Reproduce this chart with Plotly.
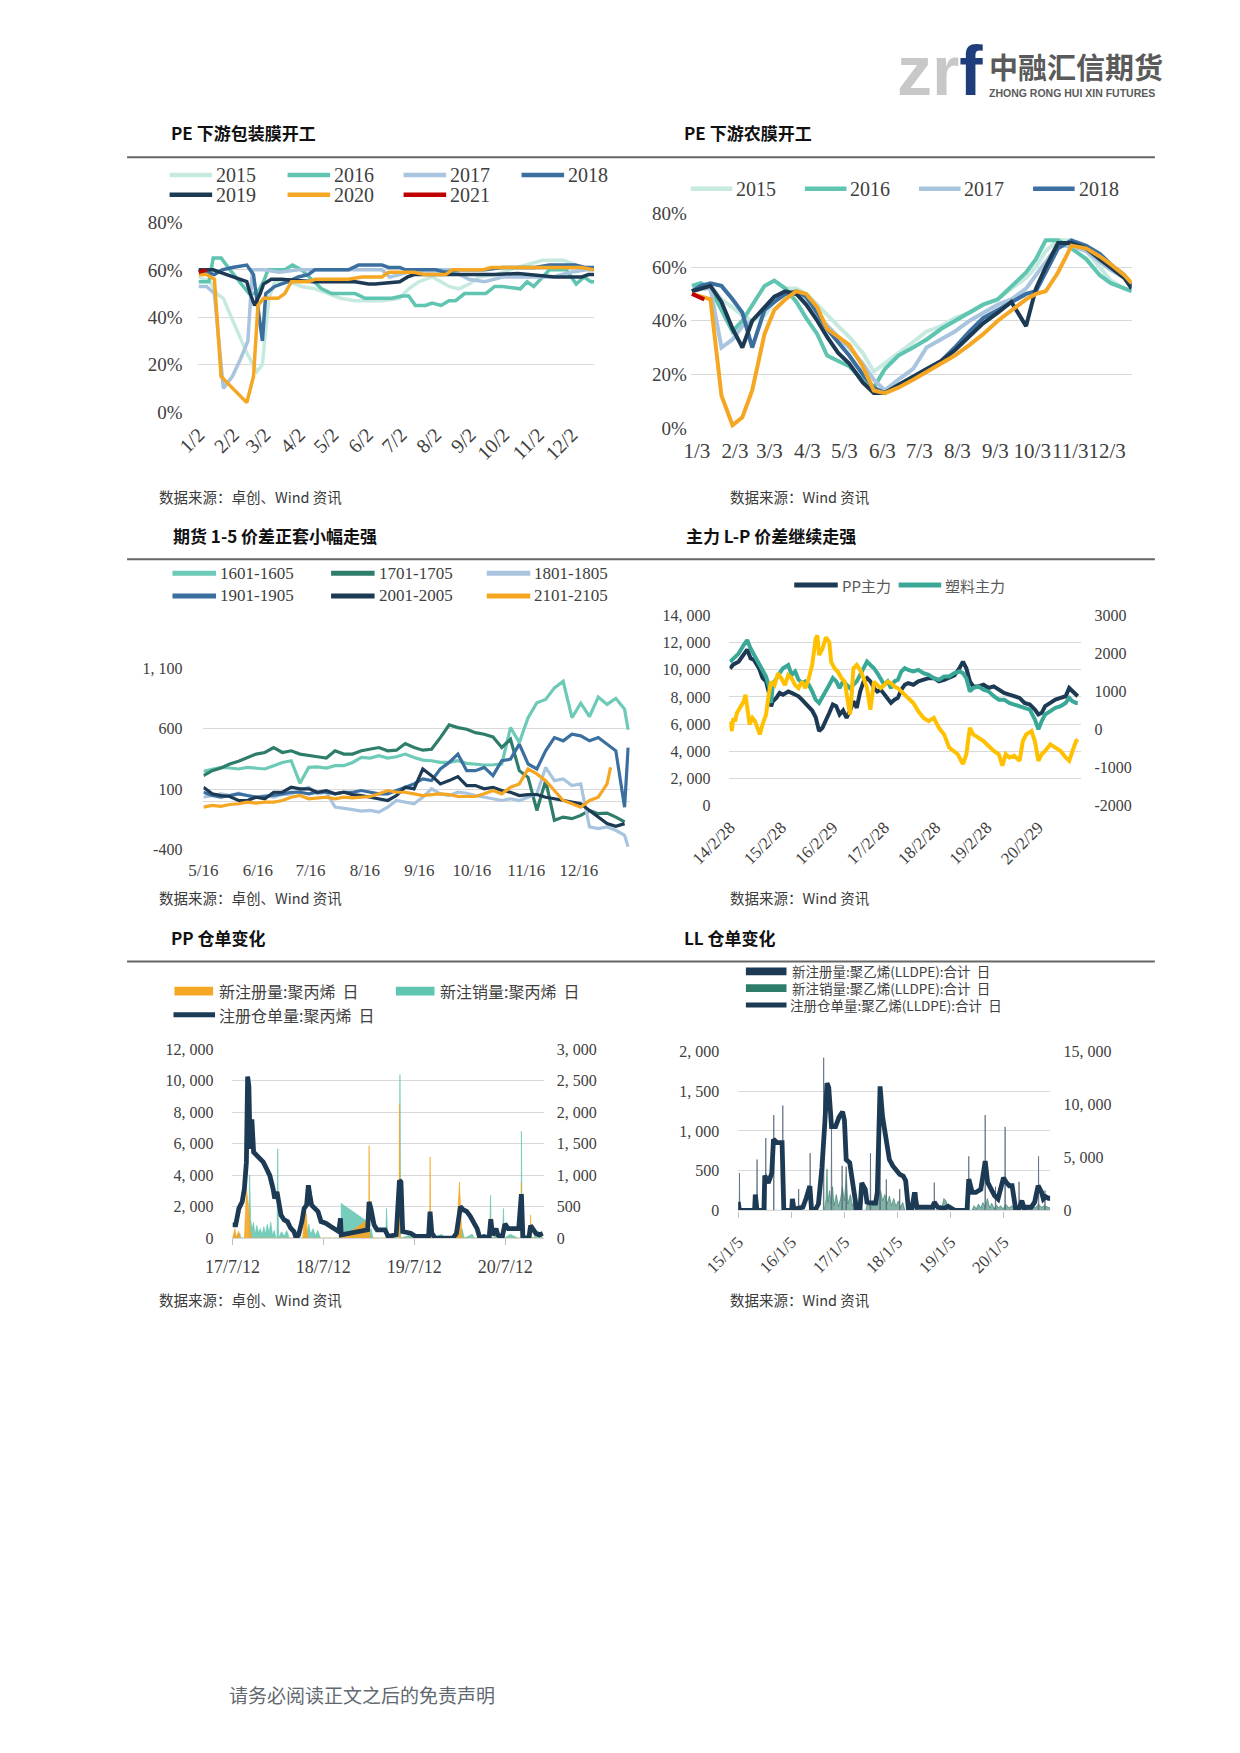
import plotly.graph_objects as go

W, H = 1240, 1753
SERIF = "Liberation Serif, Noto Sans CJK SC, serif"
CJK = "Noto Sans CJK SC, Liberation Serif, sans-serif"
TXT = "#404040"
GRID = "#d9d9d9"

# ======================= DATA =======================
# --- Chart 1: PE 下游包装膜开工 (%) ---
PK_YEARS = ["2015", "2016", "2017", "2018", "2019", "2020", "2021"]
PK15_D = ["01-02","01-12","01-18","01-24","02-02","02-14","02-23","02-28","03-03","03-06","03-11","03-23","04-04","04-16","04-28","05-09","05-22","06-15","07-01","07-09","07-18","07-30","08-07","08-14","08-23","09-01","09-10","09-25","10-14","10-29","11-06","11-25","12-06","12-17","12-22"]
PK15_V = [57,55,50,48,38,25,17,20,35,48,55,55,53,52,50,48,47,47,48,52,55,57,55,53,52,54,57,58,61,63,64,64,62,60,60]
PK16_D = ["01-02","01-11","01-15","01-22","01-30","02-08","02-16","02-23","03-01","03-05","03-20","03-27","04-04","04-13","04-22","05-01","05-22","05-31","06-24","07-03","07-09","07-15","07-24","07-30","08-07","08-14","08-20","08-28","09-16","09-24","10-01","10-17","10-23","10-29","11-06","11-12","11-27","12-06","12-13","12-19","12-22"]
PK16_V = [55,55,65,65,60,55,50,50,55,60,60,62,60,56,52,50,50,48,48,49,49,45,45,46,45,47,47,50,50,53,53,52,55,53,57,60,60,54,57,55,55]
PK17_D = ["01-02","01-09","01-16","01-24","02-01","02-08","02-15","02-19","03-01","03-15","04-01","04-15","05-01","05-15","06-01","06-15","06-22","07-01","07-15","08-01","08-15","09-01","09-15","10-01","10-15","11-01","11-15","12-01","12-15","12-22"]
PK17_V = [53,53,50,10,15,22,30,60,60,59,60,60,60,60,60,60,57,58,60,60,60,56,55,57,57,57,57,59,60,60]
PK18_D = ["01-02","01-16","01-23","02-01","02-14","02-20","02-28","03-03","03-11","03-23","04-01","04-10","04-16","05-16","05-25","06-15","06-21","07-01","07-06","08-02","08-11","08-23","09-15","10-01","10-30","11-12","12-05","12-14","12-22"]
PK18_V = [60,58,60,61,62,58,30,50,53,55,57,58,60,60,62,62,61,61,60,60,59,60,60,61,61,62,62,61,61]
PK19_D = ["01-02","01-15","01-27","02-08","02-14","02-17","02-21","02-26","03-01","03-08","03-17","04-15","05-22","06-03","06-09","07-01","07-08","07-14","08-15","09-24","10-15","11-17","12-11","12-17","12-22"]
PK19_V = [60,60,58,56,55,50,45,50,54,56,56,55,55,54,54,55,57,58,58,58,58.5,57,57,58,58]
PK20_D = ["01-02","01-09","01-16","01-22","02-14","02-20","02-24","03-01","03-14","03-20","03-26","04-10","04-16","05-16","05-28","06-15","06-21","07-14","07-23","08-11","08-17","09-13","09-21","12-11","12-22"]
PK20_V = [58,58,56,15,4,15,45,48,48,50,55,55,56,56,57,57,59,59,58,58,60,60,61,61,60]
PK21_D = ["01-02","01-09"]
PK21_V = [59,60]
PK_TICK_D = ["2001-01-02","2001-02-02","2001-03-02","2001-04-02","2001-05-02","2001-06-02","2001-07-02","2001-08-02","2001-09-02","2001-10-02","2001-11-02","2001-12-02"]
PK_TICK_T = ["1/2","2/2","3/2","4/2","5/2","6/2","7/2","8/2","9/2","10/2","11/2","12/2"]
PCT_VALS = [0, 20, 40, 60, 80]
PCT_TEXT = ["0%", "20%", "40%", "60%", "80%"]

# --- Chart 2: PE 下游农膜开工 (%) ---
AG_DATES = ["2000-12-30","2001-01-06","2001-01-14","2001-01-23","2001-02-01","2001-02-09","2001-02-17","2001-02-27","2001-03-07","2001-03-16","2001-03-25","2001-04-02","2001-04-11","2001-04-19","2001-04-28","2001-05-07","2001-05-18","2001-05-27","2001-06-05","2001-06-16","2001-06-28","2001-07-09","2001-07-21","2001-08-01","2001-08-13","2001-08-24","2001-09-05","2001-09-16","2001-09-28","2001-10-06","2001-10-14","2001-10-24","2001-11-04","2001-11-16","2001-11-27","2001-12-06","2001-12-17","2001-12-23"]
AG15 = [53,54,53,48,45,42,40,42,47,52,52,50,46,42,38,34,28,21,24,28,32,36,38,41,43,46,48,52,56,60,66,70,70,66,60,55,52,51]
AG16 = [53,54,52,44,36,40,46,53,55,52,47,41,35,27,25,23,18,15,22,27,30,33,37,40,43,46,48,53,58,63,70,70,67,63,57,54,52,51]
AG17 = [51,52,52,30,33,38,40,44,48,50,50,47,42,38,34,30,24,18,14,18,22,30,33,36,40,43,46,48,52,57,62,68,68,66,62,59,56,53]
AG18 = [51,53,54,53,48,43,30,44,47,50,51,49,43,37,32,27,20,15,13,16,19,22,25,30,36,41,44,47,50,51,58,67,70,68,65,61,57,53]
AG19 = [51,52,53,47,37,30,40,45,49,51,50,46,40,34,28,24,17,13,13,16,19,22,25,29,34,39,43,47,38,52,60,69,69,67,63,60,56,52]
AG20 = [50,49,48,12,1,4,14,35,44,48,51,50,45,37,34,31,23,14,13,15,18,21,24,27,31,35,40,44,48,50,51,58,68,67,64,61,57,54]
AG21_D = ["2000-12-30","2001-01-09"]
AG21_V = [50, 48]
AG_LEGEND = ["2015", "2016", "2017", "2018"]
AG_TICK_D = ["2001-01-03","2001-02-03","2001-03-03","2001-04-03","2001-05-03","2001-06-03","2001-07-03","2001-08-03","2001-09-03","2001-10-03","2001-11-03","2001-12-03"]
AG_TICK_T = ["1/3","2/3","3/3","4/3","5/3","6/3","7/3","8/3","9/3","10/3","11/3","12/3"]

# --- Chart 3: 1-5 spreads ---
C3_NAMES = ["1601-1605", "1701-1705", "1801-1805", "1901-1905", "2001-2005", "2101-2105"]
C3_DATES = ["2000-05-16","2000-05-21","2000-05-26","2000-05-31","2000-06-05","2000-06-10","2000-06-15","2000-06-20","2000-06-25","2000-06-30",
            "2000-07-05","2000-07-10","2000-07-15","2000-07-20","2000-07-25","2000-07-30","2000-08-04","2000-08-09","2000-08-14","2000-08-19",
            "2000-08-24","2000-08-29","2000-09-03","2000-09-08","2000-09-13","2000-09-18","2000-09-23","2000-09-28","2000-10-03","2000-10-08",
            "2000-10-13","2000-10-18","2000-10-23","2000-10-28","2000-11-02","2000-11-07","2000-11-12","2000-11-17","2000-11-22","2000-11-27",
            "2000-12-02","2000-12-07","2000-12-12","2000-12-17","2000-12-22","2000-12-27","2001-01-01","2001-01-06","2001-01-11"]
C3_TAIL_D = ["2001-01-13"]
C3_2101_TAIL_D = ["2001-01-03"]
S1601 = [248,267,280,275,267,280,275,267,294,321, 335,150,280,285,275,294,294,321,362,357,
         376,357,368,390,362,340,335,321,321,335, 313,308,300,302,308,608,485,690,813,840,
         936,990,690,810,700,860,800,850,760, 590]
S1701 = [212,253,275,308,330,357,390,403,444,403, 417,390,376,368,357,417,390,390,417,430,
         444,417,422,477,444,422,430,526,630,608, 595,567,554,532,444,512,253,198,-75,171,
         -157,-130,-143,-116,-75,-102,-97,-130,-170]
S1801 = [34,48,62,48,67,48,34,48,34,56, 62,89,116,62,75,-48,-61,-69,-80,-75,
         -89,-48,7,-7,-20,34,103,62,48,75, 67,48,34,21,7,21,7,34,62,280,
         171,185,130,144,-211,-225,-211,-239,-280, -375]
S1901 = [75,48,34,48,62,48,34,40,48,62, 75,75,62,75,75,62,75,75,89,75,
         62,62,89,116,144,185,171,267,321,390, 253,253,280,212,335,348,472,308,267,417,
         526,499,554,540,499,526,472,417,-48, 444]
S2001 = [116,62,48,40,7,7,34,21,75,75, 116,103,103,75,89,62,75,56,48,34,
         21,7,48,116,103,267,212,144,171,204, 130,130,103,116,89,75,48,56,56,34,
         21,7,-7,-20,-75,-130,-184,-206,-184]
S2101 = [-48,-34,-42,-26,-20,-7,-15,-7,-7,7, 34,48,21,29,34,21,34,29,34,40,
         62,89,75,75,62,48,56,62,56,40, 40,40,62,89,62,116,144,267,226,171,
         89,7,-20,-48,7,34,144, 280]
C3_TICK_D = ["2000-05-16","2000-06-16","2000-07-16","2000-08-16","2000-09-16","2000-10-16","2000-11-16","2000-12-16"]
C3_TICK_T = ["5/16","6/16","7/16","8/16","9/16","10/16","11/16","12/16"]
C3_Y_VALS = [-400, 100, 600, 1100]
C3_Y_TEXT = ["-400", "100", "600", "1, 100"]

# --- Chart 4: 主力 L-P ---
C4_NAMES = ["PP主力", "塑料主力"]
C4_DATES = ["2014-02-28","2014-03-24","2014-04-30","2014-06-05","2014-06-30","2014-07-24","2014-08-17","2014-09-23","2014-10-17","2014-11-11",
            "2014-12-05","2014-12-17","2014-12-29","2015-01-23","2015-02-16","2015-03-12","2015-04-18","2015-05-12","2015-06-06","2015-06-30",
            "2015-07-24","2015-08-18","2015-09-11","2015-10-05","2015-10-30","2015-11-23","2015-12-17","2016-01-11","2016-02-04","2016-02-29",
            "2016-03-24","2016-04-17","2016-05-12","2016-06-05","2016-06-29","2016-07-24","2016-08-17","2016-09-10","2016-10-05","2016-10-29",
            "2016-11-22","2016-12-17","2017-01-10","2017-02-03","2017-02-28","2017-03-24","2017-04-17","2017-05-12","2017-06-05","2017-06-30",
            "2017-07-24","2017-08-17","2017-09-23","2017-10-29","2017-12-05","2018-01-10","2018-02-16","2018-03-24","2018-04-30","2018-06-05",
            "2018-07-12","2018-08-17","2018-09-11","2018-10-05","2018-10-30","2018-11-23","2018-12-29","2019-02-04","2019-03-12","2019-04-18",
            "2019-05-24","2019-06-30","2019-08-06","2019-09-11","2019-10-18","2019-11-23","2019-12-30","2020-02-04","2020-02-29","2020-03-24",
            "2020-04-17","2020-05-24","2020-06-29","2020-08-05","2020-09-10","2020-10-05","2020-10-29","2020-11-23","2020-12-05"]
C4_PP = [10100,10400,10600,11100,11500,10850,10730,10100,9400,9150, 8170,7300,7680,7930,8300,8170,8400,8300,8170,8050,
         7800,7560,7300,7000,6500,5490,5730,6220,6830,7440, 7320,6700,7000,6460,6950,7680,7200,8400,9150,9400,
         9150,8660,8400,8540,8170,7800,7560,7800,7930,8540, 8900,9020,8900,9150,9270,9390,9390,9150,9270,9390,
         9590,10120,10610,10120,9150,8780,8780,8900,8660,8780, 8540,8290,8170,8050,7930,7560,7440,7070,6710,6830,
         7320,7560,7800,7930,8050,8660,8410,8170,8050]
C4_PE = [10600,10850,11200,11830,12200,11580,11100,10360,9880,9510, 8660,7560,8900,9390,9760,10120,10360,9630,9880,9270,
         9020,9150,8900,8410,7800,7560,8050,8410,8900,9390, 9150,8660,9150,8900,8660,8900,9150,9630,10120,10610,
         10360,10120,9760,9390,8900,9150,8660,9150,9270,9880, 10120,10000,9880,10000,9760,9630,9390,9270,9510,9510,
         9760,9880,9760,9390,8410,8660,8780,8540,8410,8050, 7800,7800,7560,7440,7320,7200,7070,6340,5610,6220,
         6710,6950,7200,7320,7560,7930,7680,7560,7560]
C4_SP_D = ["2014-02-28","2014-03-12","2014-03-24","2014-04-05","2014-04-18","2014-05-12","2014-06-05","2014-06-18","2014-06-30","2014-07-17",
           "2014-08-06","2014-08-25","2014-09-11","2014-09-28","2014-10-17","2014-11-11","2014-11-30","2014-12-17","2015-01-11","2015-02-04",
           "2015-02-28","2015-03-25","2015-04-18","2015-05-12","2015-06-06","2015-06-30","2015-07-24","2015-08-18","2015-09-11","2015-10-05",
           "2015-10-30","2015-11-11","2015-11-23","2015-12-17","2016-01-11","2016-02-04","2016-02-17","2016-03-12","2016-04-05","2016-04-30",
           "2016-05-24","2016-06-17","2016-06-29","2016-07-12","2016-07-24","2016-08-17","2016-09-10","2016-10-05","2016-10-29","2016-11-22",
           "2016-12-17","2017-01-10","2017-02-03","2017-02-28","2017-03-24","2017-04-17","2017-05-12","2017-06-05","2017-06-30","2017-07-24",
           "2017-08-17","2017-09-23","2017-10-29","2017-12-05","2018-01-10","2018-02-16","2018-03-24","2018-04-30","2018-06-05","2018-07-12",
           "2018-08-05","2018-08-29","2018-09-11","2018-10-05","2018-10-30","2018-11-23","2018-12-29","2019-02-04","2019-03-12","2019-04-18",
           "2019-05-24","2019-06-18","2019-07-12","2019-08-06","2019-09-11","2019-10-18","2019-11-11","2019-12-05","2020-01-11","2020-02-04",
           "2020-02-29","2020-03-24","2020-04-17","2020-05-24","2020-06-29","2020-08-05","2020-09-10","2020-10-05","2020-10-29","2020-11-23",
           "2020-12-05"]
C4_SP = [217,-43,304,217,435,565,739,913,565,130, 304,217,43,-130,130,391,913,1260,1170,1480,
         1350,1170,1430,1350,1170,1090,1260,1090,1350,1700, 2390,2480,1960,2130,2430,2300,1780,1610,1520,1350,
         1260,739,391,913,1610,1700,1570,1350,1090,522, 1260,1170,1090,1170,1260,1220,1130,1090,1000,913,
         826,696,478,304,217,304,43,-130,-478,-565, -652,-826,-913,-652,43,-130,-217,-304,-435,-565,
         -652,-957,-652,-739,-696,-826,-304,-130,-43,-304, -826,-652,-565,-391,-478,-565,-739,-826,-565,-304,
         -261]
C4_TICK_D = ["2014-02-28","2015-02-28","2016-02-29","2017-02-28","2018-02-28","2019-02-28","2020-02-29"]
C4_TICK_T = ["14/2/28","15/2/28","16/2/29","17/2/28","18/2/28","19/2/28","20/2/29"]
C4_L_VALS = [0, 2000, 4000, 6000, 8000, 10000, 12000, 14000]
C4_L_TEXT = ["0", "2, 000", "4, 000", "6, 000", "8, 000", "10, 000", "12, 000", "14, 000"]
C4_R_VALS = [-2000, -1000, 0, 1000, 2000, 3000]
C4_R_TEXT = ["-2000", "-1000", "0", "1000", "2000", "3000"]

# --- Chart 5: PP 仓单变化 ---
C5_NAMES = ["新注册量:聚丙烯\u00a0\u00a0日", "新注销量:聚丙烯\u00a0\u00a0日", "注册仓单量:聚丙烯\u00a0\u00a0日"]
C5_LINE_D = ["2017-07-12","2017-07-25","2017-08-07","2017-08-20","2017-08-29","2017-09-06","2017-09-11","2017-09-16","2017-09-21","2017-09-28",
             "2017-10-05","2017-10-18","2017-10-31","2017-11-13","2017-11-26","2017-12-09","2017-12-22","2017-12-29","2018-01-07","2018-01-14",
             "2018-01-23","2018-02-05","2018-02-18","2018-03-03","2018-03-16","2018-03-25","2018-04-04","2018-04-17","2018-04-26","2018-05-06",
             "2018-05-13","2018-05-19","2018-05-26","2018-06-08","2018-06-21","2018-07-03","2018-07-22","2018-08-11","2018-08-30","2018-09-12",
             "2018-09-19","2018-09-22","2019-01-06","2019-01-12","2019-01-19","2019-02-01","2019-02-13","2019-03-17","2019-03-30","2019-05-01",
             "2019-05-14","2019-05-20","2019-05-27","2019-06-28","2019-07-18","2019-09-08","2019-09-14","2019-09-21","2019-10-04","2019-12-15",
             "2019-12-29","2020-01-14","2020-01-25","2020-02-08","2020-02-22","2020-03-07","2020-03-21","2020-04-01","2020-04-18","2020-05-08",
             "2020-05-15","2020-05-22","2020-06-05","2020-06-12","2020-06-29","2020-07-11","2020-07-24","2020-09-04","2020-09-15","2020-09-21",
             "2020-10-15","2020-10-22","2020-11-12","2020-11-26","2020-12-10"]
C5_LINE_V = [840,840,1890,2310,3150,4830,10280,9650,5670,7550, 5460,5250,5140,4830,4410,3990,3150,2520,2940,2100,
             1470,1155,1050,630,420,0,210,1050,1890,2100, 3360,2730,2100,1890,1680,1050,945,735,525,420,
             1260,210,525,2310,1890,840,525,525,105,210, 3675,3570,420,315,105,105,1680,315,0,0,
             300,2000,1800,1700,1400,1000,600,0,100,0, 1200,200,600,200,0,900,600,600,2800,0,
             0,800,300,200,300]
C5_REG_D = ["2017-07-12","2017-07-22","2017-07-27","2017-08-06","2017-08-10","2017-08-29","2017-09-06","2017-09-11","2017-09-16","2017-09-21",
            "2017-09-26","2018-04-20","2018-04-30","2018-05-06","2018-05-10","2018-09-22","2019-01-06","2019-01-10","2019-01-12","2019-01-15",
            "2019-05-12","2019-05-14","2019-05-17","2019-09-12","2019-09-14","2019-09-17","2019-12-29","2020-01-10","2020-01-14","2020-01-20",
            "2020-05-13","2020-05-15","2020-05-18","2020-09-13","2020-09-15","2020-09-18","2020-10-20","2020-10-22","2020-10-25","2020-12-10"]
C5_REG_V = [0,150,20,110,0,0,790,600,470,150, 0,0,470,350,0,0,290,0,1470,0,
            0,2130,0,0,1290,0,0,890,600,0, 0,320,0,0,890,0,0,370,0,0]
C5_CAN_D = ["2017-07-12","2017-07-20","2017-07-25","2017-08-10","2017-08-15","2017-09-16","2017-09-19","2017-09-23","2017-09-28","2017-10-05",
            "2017-10-10","2017-10-18","2017-10-25","2017-11-01","2017-11-08","2017-11-15","2017-11-22","2017-11-29","2017-12-06","2017-12-13",
            "2017-12-20","2017-12-27","2018-01-03","2018-01-07","2018-01-10","2018-01-13","2018-01-25","2018-02-05","2018-02-15","2018-02-25",
            "2018-04-25","2018-05-01","2018-05-08","2018-05-15","2018-05-22","2018-06-01","2018-06-10","2018-06-20","2018-06-30","2018-09-21",
            "2018-09-22","2019-01-06","2019-01-10","2019-01-20","2019-01-28","2019-03-20","2019-03-23","2019-03-28","2019-05-14","2019-05-16",
            "2019-05-19","2019-06-20","2019-07-20","2019-09-10","2019-09-18","2019-11-01","2019-11-10","2020-01-05","2020-01-20","2020-01-30",
            "2020-03-01","2020-03-10","2020-05-10","2020-05-14","2020-05-17","2020-06-20","2020-07-01","2020-07-05","2020-07-08","2020-08-01",
            "2020-09-01","2020-09-14","2020-09-15","2020-09-18","2020-10-10","2020-11-01","2020-11-20","2020-12-10"]
C5_CAN_V = [0,60,0,80,0,0,1000,300,150,250, 50,200,80,150,50,180,60,220,80,250,
            40,120,0,0,1420,0,100,30,120,0, 0,180,80,220,60,150,40,120,0,0,
            550,260,60,150,0,0,470,0,0,2600, 0,40,0,80,0,60,0,50,150,0,
            60,0,0,680,0,80,0,470,0,60, 0,0,1700,0,60,0,120,0]
C5_TICK_D = ["2017-07-12","2018-07-12","2019-07-12","2020-07-12"]
C5_TICK_T = ["17/7/12","18/7/12","19/7/12","20/7/12"]
C5_L_VALS = [0, 2000, 4000, 6000, 8000, 10000, 12000]
C5_L_TEXT = ["0", "2, 000", "4, 000", "6, 000", "8, 000", "10, 000", "12, 000"]
C5_R_VALS = [0, 500, 1000, 1500, 2000, 2500, 3000]
C5_R_TEXT = ["0", "500", "1, 000", "1, 500", "2, 000", "2, 500", "3, 000"]

# --- Chart 6: LL 仓单变化 ---
C6_NAMES = ["新注册量:聚乙烯(LLDPE):合计\u00a0\u00a0日", "新注销量:聚乙烯(LLDPE):合计\u00a0\u00a0日", "注册仓单量:聚乙烯(LLDPE):合计\u00a0\u00a0日"]
C6_LINE_D = ["2015-01-05","2015-01-14","2015-04-28","2015-05-03","2015-05-15","2015-07-01","2015-07-07","2015-07-31","2015-08-24","2015-09-05",
             "2015-09-29","2015-11-03","2015-11-15","2016-01-08","2016-01-13","2016-01-25","2016-02-18","2016-03-25","2016-04-18","2016-05-12",
             "2016-05-24","2016-06-16","2016-07-10","2016-08-03","2016-08-22","2016-09-07","2016-09-19","2016-10-08","2016-11-05","2016-11-29",
             "2016-12-23","2017-01-05","2017-01-17","2017-02-10","2017-03-06","2017-03-29","2017-04-22","2017-05-04","2017-05-28","2017-06-09",
             "2017-07-03","2017-08-07","2017-08-19","2017-09-07","2017-09-24","2017-10-05","2017-10-17","2017-11-10","2017-12-04","2017-12-28",
             "2018-01-20","2018-02-13","2018-03-02","2018-03-21","2018-04-14","2018-05-02","2018-05-19","2018-09-03","2018-09-15","2018-10-09",
             "2018-11-01","2018-11-25","2018-12-19","2019-01-12","2019-02-05","2019-04-28","2019-05-10","2019-06-03","2019-06-27","2019-08-01",
             "2019-08-17","2019-08-31","2019-09-17","2019-10-11","2019-11-03","2019-11-27","2019-12-20","2020-01-04","2020-01-23","2020-02-13",
             "2020-03-03","2020-03-27","2020-04-20","2020-05-09","2020-05-26","2020-06-06","2020-07-12","2020-08-05","2020-08-29","2020-09-22",
             "2020-10-04","2020-10-20","2020-11-08","2020-11-20"]
C6_LINE_V = [800,0,0,1500,0,0,3300,2600,3500,6700, 6400,6400,0,0,1100,0,200,300,1200,2300,
             0,0,600,4000,8000,12000,11600,7900,7900,8800, 9300,8500,4800,4500,2300,150,100,2600,2000,780,
             700,700,1700,11700,8850,7900,6700,4800,4200,3700, 3400,3250,2800,150,150,1700,300,300,780,300,
             200,200,400,150,0,0,2950,1700,1700,2000, 3600,4660,2640,2000,1400,1090,2330,3100,2640,2330,
             2330,150,150,930,150,300,300,780,2330,1700, 1090,1300,1150,1150]
C6_REG_D = ["2015-01-05","2015-01-12","2015-01-14","2015-01-16","2015-05-13","2015-05-15","2015-05-17","2015-07-12","2015-07-14","2015-07-16",
            "2015-09-05","2015-09-07","2015-09-09","2015-11-06","2015-11-08","2015-11-10","2016-02-23","2016-02-25","2016-02-27","2016-05-12",
            "2016-05-14","2016-05-16","2016-08-13","2016-08-15","2016-08-17","2016-10-06","2016-10-08","2016-10-10","2016-12-18","2016-12-20",
            "2016-12-22","2017-01-15","2017-01-17","2017-01-19","2017-03-08","2017-03-10","2017-03-12","2017-07-01","2017-07-03","2017-07-05",
            "2017-09-05","2017-09-07","2017-09-09","2017-10-18","2017-10-20","2017-10-22","2018-01-18","2018-01-20","2018-01-22","2018-05-17",
            "2018-05-19","2018-05-21","2018-09-13","2018-09-15","2018-09-17","2019-05-08","2019-05-10","2019-05-12","2019-08-29","2019-08-31",
            "2019-09-02","2019-11-08","2019-11-10","2019-11-12","2020-01-13","2020-01-15","2020-01-17","2020-04-18","2020-04-20","2020-04-22",
            "2020-08-30","2020-09-01","2020-09-03","2020-10-13","2020-10-15","2020-10-17","2020-11-20"]
C6_REG_V = [0,0,470,0,0,640,0,0,910,0, 0,1200,0,0,1320,0,0,270,0,0,
            720,0,0,1920,0,0,1180,0,0,560, 0,0,550,0,0,250,0,0,720,0,
            0,800,0,0,390,0,0,270,0,0, 230,0,0,350,0,0,680,0,0,1200,
            0,0,300,0,0,1050,0,0,360,0, 0,680,0,0,250,0,0]
C6_CAN_D = ["2015-01-05","2016-08-20","2016-09-01","2016-09-07","2016-09-12","2016-09-25","2016-10-05","2016-10-15","2016-10-25","2016-11-10",
            "2016-11-25","2016-12-10","2016-12-22","2017-01-05","2017-01-18","2017-01-28","2017-02-15","2017-03-01","2017-03-20","2017-04-05",
            "2017-06-01","2017-06-15","2017-07-01","2017-08-15","2017-09-10","2017-09-25","2017-10-10","2017-10-25","2017-11-10","2017-11-25",
            "2017-12-10","2017-12-25","2018-01-10","2018-01-25","2018-02-10","2018-02-25","2018-11-01","2018-11-20","2018-12-05","2018-12-20",
            "2019-01-05","2019-06-01","2019-06-15","2019-07-01","2019-07-15","2019-08-01","2019-08-15","2019-09-01","2019-09-15","2019-10-01",
            "2019-10-15","2019-11-01","2019-11-15","2019-12-01","2019-12-15","2020-01-01","2020-01-20","2020-02-10","2020-03-01","2020-04-01",
            "2020-06-01","2020-06-15","2020-07-01","2020-07-20","2020-08-10","2020-09-01","2020-09-20","2020-10-10","2020-11-20"]
C6_CAN_V = [0,0,150,520,100,250,80,300,60,200, 50,150,300,120,450,80,200,60,150,0,
            0,120,40,100,250,120,200,80,180,60, 150,50,120,40,100,0,0,150,120,30,
            0,0,60,20,80,30,100,40,150,30, 90,20,70,30,60,20,80,30,60,0,
            0,50,20,70,30,80,40,60,30]
C6_TICK_D = ["2015-01-05","2016-01-05","2017-01-05","2018-01-05","2019-01-05","2020-01-05"]
C6_TICK_T = ["15/1/5","16/1/5","17/1/5","18/1/5","19/1/5","20/1/5"]
C6_L_VALS = [0, 500, 1000, 1500, 2000]
C6_L_TEXT = ["0", "500", "1, 000", "1, 500", "2, 000"]
C6_R_VALS = [0, 5000, 10000, 15000]
C6_R_TEXT = ["0", "5, 000", "10, 000", "15, 000"]

# ======================= STYLE =======================
YEAR_COLORS = {"2015": "#c6e9e0", "2016": "#5fc4b0", "2017": "#a9c4de", "2018": "#3b6fa0",
               "2019": "#1d3a55", "2020": "#f5a623", "2021": "#c00000"}
C3_COLORS = ["#6dcab6", "#2e7d6a", "#a9c4de", "#3b6fa0", "#1d3a55", "#f5a623"]
NAVY = "#1d3a55"


def px(x):
    return x / W


def py(y):
    return 1 - y / H


fig = go.Figure()


def add_line(x, y, color, width, xa, ya):
    fig.add_trace(go.Scatter(x=x, y=y, mode="lines", line=dict(color=color, width=width),
                             xaxis=xa, yaxis=ya, hoverinfo="skip", showlegend=False))


def add_area(x, y, color, fill, width, xa, ya):
    fig.add_trace(go.Scatter(x=x, y=y, mode="lines", fill="tozeroy", fillcolor=fill,
                             line=dict(color=color, width=width), xaxis=xa, yaxis=ya,
                             hoverinfo="skip", showlegend=False))


# ---- Chart 1 traces ----
pk_series = [(PK15_D, PK15_V), (PK16_D, PK16_V), (PK17_D, PK17_V), (PK18_D, PK18_V),
             (PK19_D, PK19_V), (PK20_D, PK20_V), (PK21_D, PK21_V)]
for yr, (d, v) in zip(PK_YEARS, pk_series):
    add_line(["2001-" + s for s in d], v, YEAR_COLORS[yr], 3.5, "x", "y")

# ---- Chart 2 traces ----
for yr, v in zip(["2015", "2016", "2017", "2018", "2019", "2020"], [AG15, AG16, AG17, AG18, AG19, AG20]):
    add_line(AG_DATES, v, YEAR_COLORS[yr], 4, "x2", "y2")
add_line(AG21_D, AG21_V, YEAR_COLORS["2021"], 4, "x2", "y2")

# ---- Chart 3 traces ----
c3_x = [C3_DATES + C3_TAIL_D, C3_DATES, C3_DATES + C3_TAIL_D, C3_DATES + C3_TAIL_D, C3_DATES,
        C3_DATES[:47] + C3_2101_TAIL_D]
for xx, vv, col in zip(c3_x, [S1601, S1701, S1801, S1901, S2001, S2101], C3_COLORS):
    add_line(xx, vv, col, 3.2, "x3", "y3")

# ---- Chart 4 traces ----
add_line(C4_DATES, C4_PP, NAVY, 4, "x4", "y4")
add_line(C4_DATES, C4_PE, "#3aa896", 4, "x4", "y4")
add_line(C4_SP_D, C4_SP, "#ffc000", 4, "x4", "y5")

# ---- Chart 5 traces ----
add_area(C5_CAN_D, C5_CAN_V, "#5fc4b0", "rgba(95,196,176,0.85)", 0.6, "x5", "y6")
add_area(C5_REG_D, C5_REG_V, "#f5a623", "rgba(245,166,35,0.9)", 0.6, "x5", "y6")
add_line(C5_LINE_D, C5_LINE_V, NAVY, 4.8, "x5", "y7")

# ---- Chart 6 traces ----
add_area(C6_CAN_D, C6_CAN_V, "#2e7d6a", "rgba(46,125,106,0.6)", 0.6, "x6", "y8")
add_area(C6_REG_D, C6_REG_V, "#5d6e7e", "rgba(93,110,126,0.6)", 0.8, "x6", "y8")
add_line(C6_LINE_D, C6_LINE_V, NAVY, 4.8, "x6", "y9")


# ======================= AXES =======================
def xaxis(d0, d1, rng, tv, tt, angle, size, standoff, anchor, tick=False):
    a = dict(domain=[px(d0), px(d1)], range=rng, type="date", tickmode="array", tickvals=tv, ticktext=tt,
             tickangle=angle, tickfont=dict(family=SERIF, size=size, color=TXT), showgrid=False,
             zeroline=False, anchor=anchor, fixedrange=True, ticklabelstandoff=standoff)
    if tick:
        a.update(showline=True, linecolor=GRID, linewidth=1.3, ticks="outside", ticklen=6,
                 tickcolor="#bfbfbf", tickwidth=1)
    else:
        a.update(showline=False, ticks="")
    return a


def yaxis(top, bot, rng, tv, tt, size, standoff, anchor, grid=True, side="left", overlaying=None, zero=False):
    a = dict(range=rng, tickmode="array", tickvals=tv, ticktext=tt,
             tickfont=dict(family=SERIF, size=size, color=TXT), showgrid=grid, gridcolor=GRID,
             gridwidth=1.3, zeroline=zero, zerolinecolor=GRID, zerolinewidth=1.3, showline=False,
             ticks="", side=side, anchor=anchor, fixedrange=True, ticklabelstandoff=standoff)
    if overlaying:
        a["overlaying"] = overlaying
    else:
        a["domain"] = [py(bot), py(top)]
    return a


layout_axes = dict(
    xaxis=xaxis(162, 572, ["2001-01-01", "2001-12-22"], PK_TICK_D, PK_TICK_T, -45, 20, 6, "y"),
    yaxis=yaxis(215, 407, [0, 80], PCT_VALS, PCT_TEXT, 19, 14, "x"),
    xaxis2=xaxis(672, 1128, ["2000-12-29", "2001-12-23"], AG_TICK_D, AG_TICK_T, 0, 21, 8, "y2"),
    yaxis2=yaxis(206, 423, [0, 80], PCT_VALS, PCT_TEXT, 19, 3, "x2"),
    xaxis3=xaxis(168, 609, ["2000-05-16", "2001-01-14"], C3_TICK_D, C3_TICK_T, 0, 17, 8, "y3"),
    yaxis3=yaxis(666, 850, [-400, 1100], C3_Y_VALS, C3_Y_TEXT, 16, 20, "x3", zero=True),
    xaxis4=xaxis(712, 1076, ["2014-02-24", "2020-12-31"], C4_TICK_D, C4_TICK_T, -45, 17, 8, "y4"),
    yaxis4=yaxis(613, 805, [0, 14000], C4_L_VALS, C4_L_TEXT, 16, 18, "x4"),
    yaxis5=yaxis(613, 805, [-2000, 3000], C4_R_VALS, C4_R_TEXT, 16, 12, "x4", grid=False, side="right", overlaying="y4"),
    xaxis5=xaxis(198, 520, ["2017-07-12", "2020-12-14"], C5_TICK_D, C5_TICK_T, 0, 18, 6, "y6", tick=True),
    yaxis6=yaxis(1052, 1243, [0, 3000], C5_R_VALS, C5_R_TEXT, 16, 12, "x5", side="right"),
    yaxis7=yaxis(1052, 1243, [0, 12000], C5_L_VALS, C5_L_TEXT, 16, 18, "x5", grid=False, side="left", overlaying="y6"),
    xaxis6=xaxis(721, 1044, ["2015-01-05", "2020-11-22"], C6_TICK_D, C6_TICK_T, -45, 17, 8, "y8", tick=True),
    yaxis8=yaxis(1054, 1215, [0, 2000], C6_L_VALS, C6_L_TEXT, 16, 18, "x6"),
    yaxis9=yaxis(1054, 1215, [0, 15000], C6_R_VALS, C6_R_TEXT, 16, 12, "x6", grid=False, side="right", overlaying="y8"),
)

# ======================= DECORATION =======================
shapes = []
annotations = []


def text(x, y, s, size, color=TXT, family=CJK, anchor="left", vanchor="middle"):
    annotations.append(dict(x=px(x), y=py(y), xref="paper", yref="paper", text=s, showarrow=False,
                            xanchor=anchor, yanchor=vanchor, font=dict(family=family, size=size, color=color)))


def leg_line(x0, y, length, color, width, label, size, family=SERIF, color_t=TXT):
    shapes.append(dict(type="line", xref="paper", yref="paper", x0=px(x0), x1=px(x0 + length),
                       y0=py(y), y1=py(y), line=dict(color=color, width=width)))
    text(x0 + length + 2, y, label, size, color_t, family)


def leg_bar(x0, y, length, h, color, label, size, family=CJK, color_t=TXT):
    shapes.append(dict(type="rect", xref="paper", yref="paper", x0=px(x0), x1=px(x0 + length),
                       y0=py(y + h / 2), y1=py(y - h / 2), line=dict(width=0), fillcolor=color))
    text(x0 + length + 4, y, label, size, color_t, family)


# logo
text(883, 62, "<b><span style='color:#c8c8c8'>zr</span><span style='color:#1f3d7a'>f</span></b>", 70,
     family="Liberation Sans, Arial, sans-serif")
text(978, 57, "<b>中融汇信期货</b>", 29, "#5a5a5a")
text(978, 84, "<b>ZHONG RONG HUI XIN FUTURES</b>", 10.5, "#5a5a5a", family="Liberation Sans, Arial, sans-serif")

# section titles and rules
for (tx, ty, s) in [(132, 124, "PE 下游包装膜开工"), (663, 124, "PE 下游农膜开工"),
                    (134, 532, "期货 1-5 价差正套小幅走强"), (665, 532, "主力 L-P 价差继续走强"),
                    (132, 939, "PP 仓单变化"), (663, 939, "LL 仓单变化")]:
    text(tx, ty, "<b>" + s + "</b>", 17, "#111111")
for ly in [149, 556, 963]:
    shapes.append(dict(type="line", xref="paper", yref="paper", x0=px(89), x1=px(1152), y0=py(ly), y1=py(ly),
                       line=dict(color="#666666", width=2)))

# sources
for (sx, sy, s) in [(120, 492, "数据来源：卓创、Wind 资讯"), (710, 492, "数据来源：Wind 资讯"),
                    (120, 898, "数据来源：卓创、Wind 资讯"), (710, 898, "数据来源：Wind 资讯"),
                    (120, 1305, "数据来源：卓创、Wind 资讯"), (710, 1305, "数据来源：Wind 资讯")]:
    text(sx, sy, s, 14.5, "#3a3a3a")

# legends chart 1
for yr, (lx, lyy) in zip(PK_YEARS, [(133, 167), (255, 167), (375, 167), (497, 167), (133, 187), (255, 187), (375, 187)]):
    leg_line(lx, lyy, 44, YEAR_COLORS[yr], 4.5, yr, 20)
# legends chart 2
for yr, lx in zip(AG_LEGEND, [672, 790, 908, 1026]):
    leg_line(lx, 181, 43, YEAR_COLORS[yr], 4.5, yr, 20)
# legends chart 3
for nm, col, (lx, lyy) in zip(C3_NAMES, C3_COLORS, [(136, 570), (300, 570), (461, 570), (136, 593), (300, 593), (461, 593)]):
    leg_line(lx, lyy, 45, col, 5, nm, 17)
# legend chart 4
leg_line(779, 582, 45, NAVY, 5, C4_NAMES[0], 15, family=CJK, color_t="#595959")
leg_line(887, 582, 44, "#3aa896", 5, C4_NAMES[1], 15, family=CJK, color_t="#595959")
# legend chart 5
leg_bar(138, 993, 40, 9, "#f5a623", C5_NAMES[0], 16)
leg_bar(367, 993, 40, 9, "#5fc4b0", C5_NAMES[1], 16)
leg_line(137, 1017, 43, NAVY, 5, C5_NAMES[2], 16, family=CJK)
# legend chart 6 (rows kept tight like the reference, but not overlapping)
leg_bar(729, 973, 42, 8, NAVY, C6_NAMES[0], 13.5)
leg_bar(729, 990, 42, 8, "#2e7d6a", C6_NAMES[1], 13.5)
leg_line(729, 1007, 42, NAVY, 5, C6_NAMES[2], 13.5, family=CJK)

# footer
text(192, 1705, "请务必阅读正文之后的免责声明", 19, "#62686f")

fig.update_layout(
    width=W, height=H, margin=dict(l=0, r=0, t=0, b=0),
    paper_bgcolor="white", plot_bgcolor="white", showlegend=False,
    shapes=shapes, annotations=annotations, **layout_axes,
)

fig.write_html("out.html", config={"displayModeBar": False},
               post_script="document.body.style.margin='0';document.body.style.overflow='hidden';")
